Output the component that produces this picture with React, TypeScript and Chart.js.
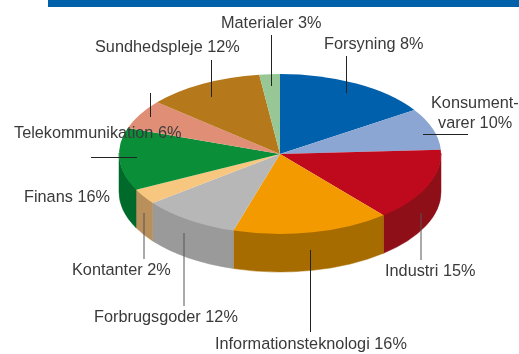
import React, { useEffect, useRef } from "react";
import { Chart, registerables } from "chart.js";

Chart.register(...registerables);

const categories = ["Forsyning", "Konsumentvarer", "Industri", "Informationsteknologi", "Forbrugsgoder", "Kontanter", "Finans", "Telekommunikation", "Sundhedspleje", "Materialer"];
// Slice sizes as drawn in the picture (degrees of the pie); they differ from the printed percentages.
const sliceDegrees = [56.6, 30.4, 53, 56.8, 35.5, 11.1, 45.6, 21.2, 42.4, 7.4];
const topColors = ["#0060ab", "#8ca6d4", "#bf0a1e", "#f39a00", "#b7b7b7", "#f7c67f", "#0a8f38", "#e08e75", "#b5791c", "#96c795"];
const sideColors = ["#004a85", "#6c82a8", "#8f0f18", "#a66c00", "#9a9a9a", "#b98f5c", "#006a2b", "#b06c58", "#8a5c14", "#74a074"];

const labelTexts = ["Materialer 3%", "Sundhedspleje 12%", "Forsyning 8%", "Konsument-", "varer 10%", "Telekommunikation 6%", "Finans 16%", "Kontanter 2%", "Forbrugsgoder 12%", "Industri 15%", "Informationsteknologi 16%"];
const labelX = [221, 95, 324, 431, 438, 14, 24, 72, 94, 385, 215];
const labelY = [24, 48, 45, 104, 124, 134, 198, 271, 318, 272, 345];
const leaderLines = [
  [271.5, 35, 271.5, 86],
  [211.5, 60, 211.5, 97],
  [346.5, 56, 346.5, 93],
  [150.5, 93, 150.5, 117],
  [91, 157.5, 137, 157.5],
  [423, 134.5, 468, 134.5],
  [421, 213, 421, 260],
  [310.5, 250, 310.5, 332],
  [184, 233, 184, 306],
  [144, 213, 144, 259],
];
const leaderColors = ["#222222", "#222222", "#222222", "#222222", "#222222", "#222222", "#555555", "#222222", "#555555", "#555555"];

const CENTER_Y = 154;
const RADIUS_Y = 80;
const DEPTH = 38;

const tiltPlugin = {
  id: "tilt",
  beforeDatasetsDraw(chart: any) {
    const ctx = chart.ctx;
    const arcs = chart.getDatasetMeta(0).data;
    // Front wall of each slice, between the top rim and the same rim moved down.
    arcs.forEach((a: any, i: number) => {
      const s = Math.max(a.startAngle, 0);
      const e = Math.min(a.endAngle, Math.PI);
      if (e <= s) return;
      ctx.beginPath();
      ctx.ellipse(a.x, CENTER_Y - 1, a.outerRadius, RADIUS_Y, 0, s, e);
      ctx.ellipse(a.x, CENTER_Y + DEPTH, a.outerRadius, RADIUS_Y, 0, e, s, true);
      ctx.closePath();
      ctx.fillStyle = sideColors[i];
      ctx.strokeStyle = sideColors[i];
      ctx.lineWidth = 0.5;
      ctx.fill();
      ctx.stroke();
    });
    const circleY = (chart.chartArea.top + chart.chartArea.bottom) / 2;
    ctx.save();
    ctx.translate(0, CENTER_Y);
    ctx.scale(1, RADIUS_Y / arcs[0].outerRadius);
    ctx.translate(0, -circleY);
  },
  afterDatasetsDraw(chart: any) {
    const ctx = chart.ctx;
    ctx.restore();
    ctx.save();
    ctx.fillStyle = "#0060a9";
    ctx.fillRect(48, 0, 471, 7);
    ctx.lineWidth = 1;
    leaderLines.forEach(([x1, y1, x2, y2], i) => {
      ctx.strokeStyle = leaderColors[i];
      ctx.beginPath();
      ctx.moveTo(x1, y1);
      ctx.lineTo(x2, y2);
      ctx.stroke();
    });
    ctx.font = '16.3px "Liberation Sans"';
    ctx.fillStyle = "#3a3a3a";
    ctx.textBaseline = "middle";
    ctx.textAlign = "left";
    labelTexts.forEach((t, i) => ctx.fillText(t, labelX[i], labelY[i]));
    ctx.restore();
  },
};

export default function App() {
  const ref = useRef<HTMLCanvasElement>(null);
  useEffect(() => {
    document.body.style.margin = "0";
    const chart = new Chart(ref.current!, {
      type: "pie",
      data: {
        labels: categories,
        datasets: [{ data: sliceDegrees, backgroundColor: topColors, borderWidth: 0 }],
      },
      options: {
        responsive: false,
        animation: false,
        layout: { padding: { left: 119, right: 78, top: 0, bottom: 32 } },
        plugins: { legend: { display: false }, tooltip: { enabled: false } },
      },
      plugins: [tiltPlugin],
    });
    return () => chart.destroy();
  }, []);
  return <canvas ref={ref} width={519} height={354} style={{ display: "block" }} />;
}
